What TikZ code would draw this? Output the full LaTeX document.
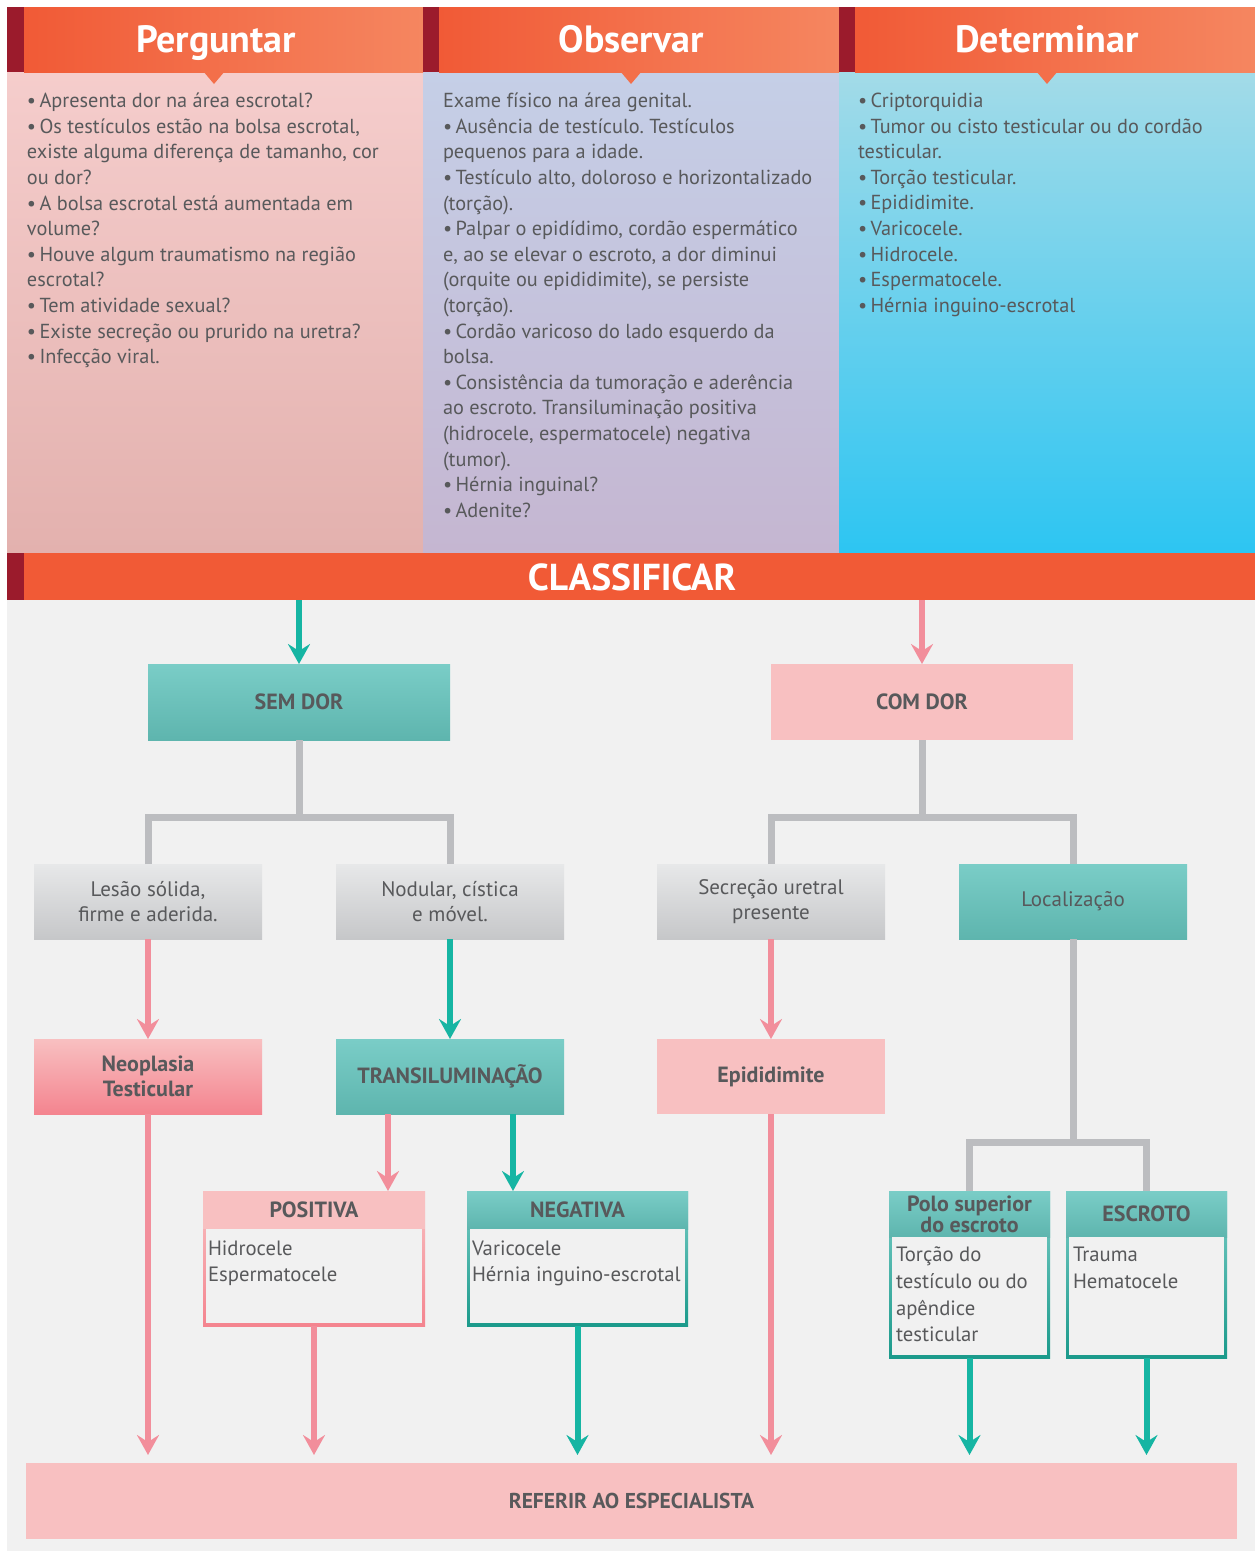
\documentclass[tikz,border=0pt]{standalone}
\usepackage{fontspec}
\setmainfont{PT Sans}
\usetikzlibrary{arrows.meta}
\frenchspacing
\newcommand{\bl}{•\kern-2pt\ }
\definecolor{txt}{HTML}{58595B}
\definecolor{stripe}{HTML}{9B1B2C}
\definecolor{hdrL}{HTML}{F15A36}
\definecolor{hdrR}{HTML}{F58660}
\definecolor{c1T}{HTML}{F5CDCC}
\definecolor{c1B}{HTML}{E3B1AE}
\definecolor{c2T}{HTML}{C5CFE7}
\definecolor{c2B}{HTML}{C5B6D1}
\definecolor{c3T}{HTML}{A3DBE8}
\definecolor{c3B}{HTML}{2DC5F2}
\definecolor{classC}{HTML}{F15A36}
\definecolor{bg}{HTML}{F1F1F1}
\definecolor{tealT}{HTML}{7ACDC7}
\definecolor{tealB}{HTML}{5EB5AE}
\definecolor{tealD}{HTML}{1B9A8B}
\definecolor{pinkF}{HTML}{F8C0C1}
\definecolor{pinkD}{HTML}{F4848F}
\definecolor{grayT}{HTML}{E7E8E9}
\definecolor{grayB}{HTML}{C6C7C9}
\definecolor{connG}{HTML}{BCBDC0}
\definecolor{arrP}{HTML}{F28E9B}
\definecolor{arrT}{HTML}{16B5A3}
\tikzset{
  plain/.style={inner sep=0pt, outer sep=0pt},
  coltext/.style={plain, anchor=north west, align=left, text=txt, font=\fontsize{20.3}{25.6}\selectfont},
  title/.style={plain, anchor=base, text=white, font=\bfseries\fontsize{38}{42}\selectfont},
  flow/.style={plain, minimum width=228pt, minimum height=75pt, align=center, text=txt, font=\fontsize{21}{25.5}\selectfont},
  bflow/.style={flow, font=\bfseries\fontsize{22}{25.5}\selectfont},
  tealbox/.style={top color=tealT, middle color=tealT, bottom color=tealB},
  graybox/.style={top color=grayT, bottom color=grayB},
  pinkbox/.style={fill=pinkF},
  neobox/.style={top color=pinkF, middle color=pinkF, bottom color=pinkD},
  conn/.style={draw=connG, line width=7pt, line join=miter},
  tipA/.style={-{Stealth[length=20pt, width=22pt, inset=7pt]}},
  arrpink/.style={draw=arrP, line width=6pt, tipA},
  arrteal/.style={draw=arrT, line width=6pt, tipA},
  bodytext/.style={plain, anchor=north west, align=left, text=txt, font=\fontsize{20.7}{26}\selectfont},
  hdrtext/.style={plain, align=center, text=txt, font=\bfseries\fontsize{22}{21}\selectfont},
}
\begin{document}
\begin{tikzpicture}[x=1pt, y=-1pt]
\useasboundingbox (0,0) rectangle (1255,1551);
\fill[white] (0,0) rectangle (1255,1551);
% ---- top columns
\fill[top color=c1T, bottom color=c1B] (7,72) rectangle (423,553);
\fill[top color=c2T, bottom color=c2B] (423,72) rectangle (839,553);
\fill[top color=c3T, bottom color=c3B] (839,72) rectangle (1255,553);
\fill[stripe] (7,7) rectangle (24,72);
\fill[left color=hdrL, right color=hdrR] (24,7) rectangle (423,72);
\fill[stripe] (423,7) rectangle (439,72);
\fill[left color=hdrL, right color=hdrR] (439,7) rectangle (839,72);
\fill[stripe] (839,7) rectangle (855,72);
\fill[left color=hdrL, right color=hdrR] (855,7) rectangle (1255,72);
\fill[hdrL!52!hdrR] (203,71) -- (225,71) -- (214,84) -- cycle;
\fill[hdrL!52!hdrR] (620,71) -- (642,71) -- (631,84) -- cycle;
\fill[hdrL!52!hdrR] (1036,71) -- (1058,71) -- (1047,84) -- cycle;
\node[title] (tperg) at (216,52) {Perguntar};
\node[title] (tobs) at (631,52) {Observar};
\node[title] (tdet) at (1047,52) {Determinar};
\node[coltext] (perg) at (27,93) {\bl Apresenta dor na área escrotal?\\
\bl Os testículos estão na bolsa escrotal,\\
existe alguma diferença de tamanho, cor\\
ou dor?\\
\bl A bolsa escrotal está aumentada em\\
volume?\\
\bl Houve algum traumatismo na região\\
escrotal?\\
\bl Tem atividade sexual?\\
\bl Existe secreção ou prurido na uretra?\\
\bl Infecção viral.};
\node[coltext] (obs) at (443,93) {Exame físico na área genital.\\
\bl Ausência de testículo. Testículos\\
pequenos para a idade.\\
\bl Testículo alto, doloroso e horizontalizado\\
(torção).\\
\bl Palpar o epidídimo, cordão espermático\\
e, ao se elevar o escroto, a dor diminui\\
(orquite ou epididimite), se persiste\\
(torção).\\
\bl Cordão varicoso do lado esquerdo da\\
bolsa.\\
\bl Consistência da tumoração e aderência\\
ao escroto. Transiluminação positiva\\
(hidrocele, espermatocele) negativa\\
(tumor).\\
\bl Hérnia inguinal?\\
\bl Adenite?};
\node[coltext] (det) at (858,93) {\bl Criptorquidia\\
\bl Tumor ou cisto testicular ou do cordão\\
testicular.\\
\bl Torção testicular.\\
\bl Epididimite.\\
\bl Varicocele.\\
\bl Hidrocele.\\
\bl Espermatocele.\\
\bl Hérnia inguino-escrotal};
% ---- classificar
\fill[bg] (7,600) rectangle (1255,1551);
\fill[stripe] (7,553) rectangle (24,600);
\node[plain, fill=classC, minimum width=1231pt, minimum height=47pt] (classbar) at (639.5,576.5) {};
\node[plain, anchor=base, text=white, font=\bfseries\fontsize{37.5}{40}\selectfont] (classtxt) at (632,590) {CLASSIFICAR};
% ---- flow nodes
\node[bflow, tealbox, minimum width=302pt, minimum height=76pt] (semdor) at (299,702) {SEM DOR};
\node[bflow, pinkbox, minimum width=302pt, minimum height=76pt] (comdor) at (922,702) {COM DOR};
\node[flow, graybox] (lesao) at (148,901.5) {Lesão sólida,\\firme e aderida.};
\node[flow, graybox] (nodular) at (450,901.5) {Nodular, cística\\e móvel.};
\node[flow, graybox] (secrecao) at (771,901.5) {Secreção uretral\\presente};
\node[flow, tealbox] (local) at (1073,901.5) {Localização};
\node[bflow, neobox] (neo) at (148,1076.5) {Neoplasia\\Testicular};
\node[bflow, tealbox] (trans) at (450,1076.5) {TRANSILUMINAÇÃO};
\node[bflow, pinkbox] (epi) at (771,1076.5) {Epididimite};
% result boxes (border + header + body)
\node[plain, top color=pinkF, bottom color=pinkD, minimum width=222pt, minimum height=135pt] (pos) at (314,1258.5) {};
\fill[pinkF] (203,1191) rectangle (425,1229);
\fill[bg] (206,1229) rectangle (422,1323);
\node[hdrtext] (posh) at (314,1210) {POSITIVA};
\node[bodytext] (posb) at (208,1241) {Hidrocele\\Espermatocele};
\node[plain, top color=tealT, bottom color=tealD, minimum width=221pt, minimum height=135pt] (neg) at (577.5,1258.5) {};
\fill[top color=tealT, bottom color=tealB] (467,1191) rectangle (688,1229);
\fill[bg] (470,1229) rectangle (685,1323);
\node[hdrtext] (negh) at (577.5,1210) {NEGATIVA};
\node[bodytext] (negb) at (472,1241) {Varicocele\\Hérnia inguino-escrotal};
\node[plain, top color=tealT, bottom color=tealD, minimum width=161pt, minimum height=167pt] (polo) at (969.5,1274.5) {};
\fill[top color=tealT, bottom color=tealB] (889,1191) rectangle (1050,1237);
\fill[bg] (892,1237) rectangle (1047,1355);
\node[hdrtext] (poloh) at (969.5,1214) {Polo superior\\do escroto};
\node[bodytext, font=\fontsize{20.7}{26.7}\selectfont] (polob) at (896,1247) {Torção do\\testículo ou do\\apêndice\\testicular};
\node[plain, top color=tealT, bottom color=tealD, minimum width=161pt, minimum height=167pt] (escr) at (1146.5,1274.5) {};
\fill[top color=tealT, bottom color=tealB] (1066,1191) rectangle (1227,1237);
\fill[bg] (1069,1237) rectangle (1224,1355);
\node[hdrtext] (escrh) at (1146.5,1214) {ESCROTO};
\node[bodytext, font=\fontsize{20.7}{26.7}\selectfont] (escrb) at (1073,1247) {Trauma\\Hematocele};
\node[bflow, pinkbox, minimum width=1211pt, minimum height=76pt, font=\bfseries\fontsize{21.5}{24}\selectfont] (referir) at (631.5,1501) {REFERIR AO ESPECIALISTA};
% ---- connectors
\coordinate (j1) at (299,817);
\coordinate (j2) at (922,817);
\coordinate (j3) at (1073,1142);
\draw[conn] (semdor.south) -- (j1);
\draw[conn] (lesao.north) |- (j1) -| (nodular.north);
\draw[conn] (comdor.south) -- (j2);
\draw[conn] (secrecao.north) |- (j2) -| (local.north);
\draw[conn] (local.south) -- (j3);
\draw[conn] (polo.north) |- (j3) -| (escr.north);
\draw[arrteal] (classbar.south -| semdor.north) -- (semdor.north);
\draw[arrpink] (classbar.south -| comdor.north) -- (comdor.north);
\draw[arrpink] (lesao.south) -- (neo.north);
\draw[arrteal] (nodular.south) -- (trans.north);
\draw[arrpink] (secrecao.south) -- (epi.north);
\draw[arrpink] (trans.south -| 388,0) -- (pos.north -| 388,0);
\draw[arrteal] (trans.south -| 513,0) -- (neg.north -| 513,0);
\draw[arrpink, shorten >=8pt] (neo.south) -- (referir.north -| neo.south);
\draw[arrpink, shorten >=8pt] (pos.south) -- (referir.north -| pos.south);
\draw[arrteal, shorten >=8pt] (neg.south) -- (referir.north -| neg.south);
\draw[arrpink, shorten >=8pt] (epi.south) -- (referir.north -| epi.south);
\draw[arrteal, shorten >=8pt] (polo.south) -- (referir.north -| polo.south);
\draw[arrteal, shorten >=8pt] (escr.south) -- (referir.north -| escr.south);
\end{tikzpicture}
\end{document}
